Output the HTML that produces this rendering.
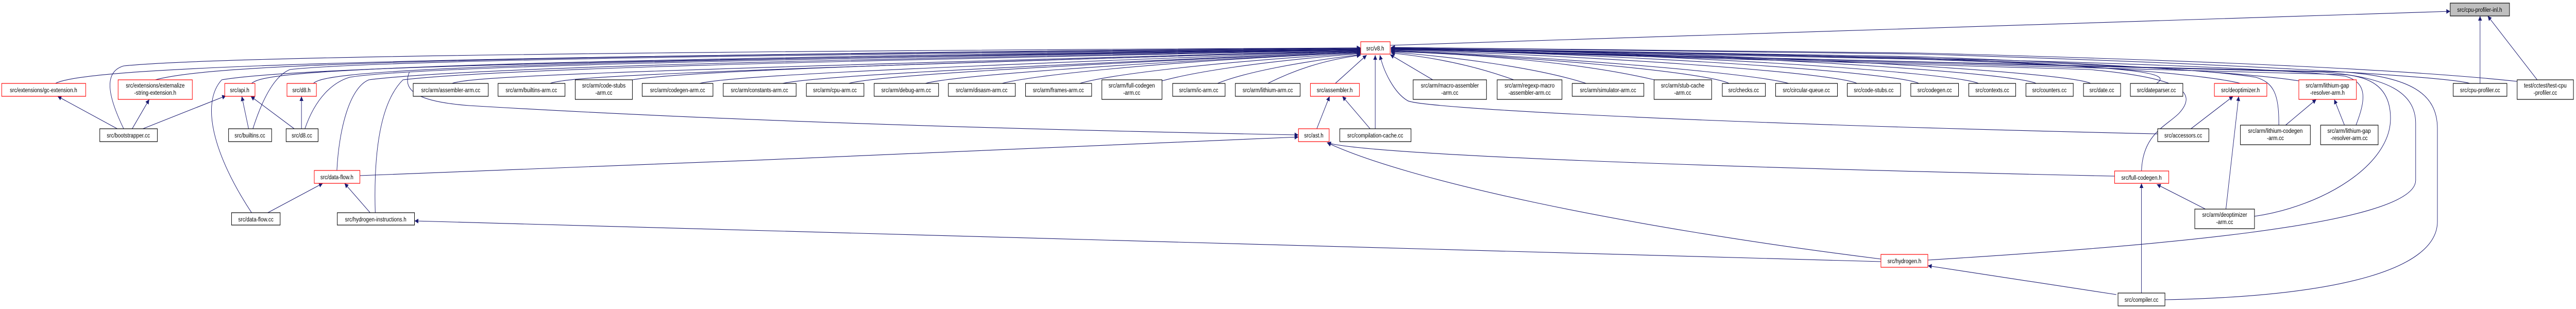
<!DOCTYPE html>
<html><head><meta charset="utf-8"><style>
html,body{margin:0;padding:0;background:#fff;width:100%;height:100%;overflow:hidden;}
svg{display:block;width:100vw;height:100vh}
text{font-family:"Liberation Sans",Arial,sans-serif;font-size:12px;fill:#000;text-anchor:middle}
.e{fill:none;stroke:#191970;stroke-width:1.1}
.n{fill:#fff;stroke:#000;stroke-width:1.2}
.r{fill:#fff;stroke:#ff0000;stroke-width:1.2}
.g{fill:#bfbfbf;stroke:#000;stroke-width:1.2}
</style></head><body>
<svg viewBox="0 0 6041 600" preserveAspectRatio="none" xmlns="http://www.w3.org/2000/svg">
<defs><marker id="a" viewBox="0 0 10 10" refX="10" refY="5" markerUnits="userSpaceOnUse" markerWidth="11" markerHeight="9" orient="auto"><path d="M0,0 L10,5 L0,10 z" fill="#191970"/></marker></defs>
<g marker-end="url(#a)">
<path class="e" d="M130,162 C200,130 900,110 3191,93"/>
<path class="e" d="M364,155 C500,125 1000,110 3191,94"/>
<path class="e" d="M290,250 C255,190 240,140 290,128 C500,110 1500,100 3191,93"/>
<path class="e" d="M590,162 C620,140 800,120 3191,95"/>
<path class="e" d="M593,250 C620,180 650,145 680,135 C900,115 2000,105 3191,95"/>
<path class="e" d="M735,162 C760,140 1000,120 3191,96"/>
<path class="e" d="M715,250 C740,190 780,160 820,150 C1000,125 2200,110 3191,96"/>
<path class="e" d="M590,413 C500,300 470,200 520,155 C700,130 1500,115 3191,97"/>
<path class="e" d="M790,331 C795,250 820,170 865,155 C1100,130 2000,115 3191,97"/>
<path class="e" d="M880,413 C876,300 890,200 945,155 C1200,130 2200,115 3191,97"/>
<path class="e" d="M1060,162 C1100,150 1300,140 3191,98"/>
<path class="e" d="M1290,162 C1330,150 1500,140 3191,98"/>
<path class="e" d="M1483,155 C1550,145 1800,130 3191,99"/>
<path class="e" d="M1640,162 C1700,150 2000,135 3191,99"/>
<path class="e" d="M1835,162 C1900,150 2200,135 3191,100"/>
<path class="e" d="M1990,162 C2050,148 2400,130 3191,100"/>
<path class="e" d="M2170,162 C2230,148 2600,125 3191,101"/>
<path class="e" d="M2350,162 C2410,148 2700,120 3191,102"/>
<path class="e" d="M2532,162 C2600,145 2850,120 3191,103"/>
<path class="e" d="M2725,157 C2800,140 2950,120 3191,104"/>
<path class="e" d="M2855,162 C2920,140 3050,120 3191,106"/>
<path class="e" d="M2973,162 C3050,130 3120,115 3191,107"/>
<path class="e" d="M3130,163 L3205,107"/>
<path class="e" d="M3225,250 L3225,107"/>
<path class="e" d="M960,140 C940,180 990,198 1100,205 C1800,240 2600,255 3045,262"/>
<path class="e" d="M3360,155 L3260,106"/>
<path class="e" d="M3550,155 C3450,125 3350,110 3262,103"/>
<path class="e" d="M3720,162 C3600,130 3400,110 3262,101"/>
<path class="e" d="M3880,155 C3700,120 3450,105 3262,100"/>
<path class="e" d="M4055,162 C4000,140 3600,110 3262,99"/>
<path class="e" d="M4195,162 C4100,140 3600,108 3262,98"/>
<path class="e" d="M4355,162 C4300,140 3700,106 3262,97"/>
<path class="e" d="M4500,162 C4450,140 3800,104 3262,96"/>
<path class="e" d="M4640,162 C4580,140 3900,102 3262,96"/>
<path class="e" d="M4775,162 C4720,140 4000,100 3262,95"/>
<path class="e" d="M4903,162 C4850,140 4100,100 3262,95"/>
<path class="e" d="M5057,162 C5100,140 5000,130 4500,115 L3262,94"/>
<path class="e" d="M5254,162 C5200,150 5000,130 4500,112 L3262,93"/>
<path class="e" d="M5391,157 C5300,145 5000,125 4500,110 L3262,93"/>
<path class="e" d="M5792,162 C5750,150 5300,125 4500,105 L3262,92"/>
<path class="e" d="M5903,158 C5700,140 5300,120 4500,103 L3262,92"/>
<path class="e" d="M5344,243 C5345,180 5330,160 5290,150 C5100,125 4500,110 3262,94"/>
<path class="e" d="M5525,243 C5550,190 5550,160 5500,148 C5300,128 4600,110 3262,94"/>
<path class="e" d="M5022,332 C5025,260 5080,245 5110,220 C5160,175 5100,150 4900,135 L3262,95"/>
<path class="e" d="M5060,260 C4000,240 3320,210 3300,195 C3270,180 3245,140 3236,107"/>
<path class="e" d="M5287,420 C5450,400 5606,320 5606,230 C5606,170 5560,150 5500,145 L3262,95"/>
<path class="e" d="M4521,505 C5000,480 5665,440 5665,350 L5665,240 C5665,180 5600,150 5450,140 L3262,95"/>
<path class="e" d="M5077,582 C5500,575 5716,520 5716,430 L5716,250 C5716,180 5650,150 5500,140 L3262,95"/>
<path class="e" d="M3260,88 L5746,22"/>
<path class="e" d="M5816,162 L5816,31"/>
<path class="e" d="M5950,155 L5834,31"/>
<path class="e" d="M275,250 L135,187"/>
<path class="e" d="M310,250 L350,193"/>
<path class="e" d="M335,250 L530,186"/>
<path class="e" d="M583,250 L567,187"/>
<path class="e" d="M690,250 L588,187"/>
<path class="e" d="M707,250 L707,187"/>
<path class="e" d="M628,413 L757,356"/>
<path class="e" d="M868,413 L808,356"/>
<path class="e" d="M844,341 C1500,320 2600,285 3045,266"/>
<path class="e" d="M3088,250 L3118,187"/>
<path class="e" d="M3213,250 L3148,187"/>
<path class="e" d="M4959,342 C4000,325 3200,300 3112,277"/>
<path class="e" d="M4411,503 C3800,440 3300,350 3112,277"/>
<path class="e" d="M4411,508 C3000,480 1800,450 972,429"/>
<path class="e" d="M4963,572 L4521,516"/>
<path class="e" d="M5022,569 L5022,356"/>
<path class="e" d="M5172,406 L5058,358"/>
<path class="e" d="M5220,406 L5250,187"/>
<path class="e" d="M5138,250 L5237,187"/>
<path class="e" d="M5360,243 L5432,193"/>
<path class="e" d="M5498,243 L5474,193"/>
</g>
<rect class="g" x="5746" y="6" width="139" height="25"/><text x="5815" y="23">src/cpu-profiler-inl.h</text>
<rect class="r" x="3191" y="81" width="69" height="24"/><text x="3225" y="98">src/v8.h</text>

<rect class="r" x="4" y="162" width="197" height="25"/><text x="102" y="179">src/extensions/gc-extension.h</text>
<rect class="r" x="277" y="155" width="174" height="38"/><text x="364" y="170">src/extensions/externalize</text><text x="364" y="184">-string-extension.h</text>
<rect class="r" x="527" y="162" width="71" height="25"/><text x="562" y="179">src/api.h</text>
<rect class="r" x="673" y="162" width="69" height="25"/><text x="707" y="179">src/d8.h</text>
<rect class="n" x="969" y="162" width="176" height="25"/><text x="1057" y="179">src/arm/assembler-arm.cc</text>
<rect class="n" x="1168" y="162" width="157" height="25"/><text x="1246" y="179">src/arm/builtins-arm.cc</text>
<rect class="n" x="1349" y="155" width="134" height="38"/><text x="1416" y="170">src/arm/code-stubs</text><text x="1416" y="184">-arm.cc</text>
<rect class="n" x="1506" y="162" width="166" height="25"/><text x="1589" y="179">src/arm/codegen-arm.cc</text>
<rect class="n" x="1696" y="162" width="171" height="25"/><text x="1781" y="179">src/arm/constants-arm.cc</text>
<rect class="n" x="1891" y="162" width="135" height="25"/><text x="1958" y="179">src/arm/cpu-arm.cc</text>
<rect class="n" x="2050" y="162" width="151" height="25"/><text x="2125" y="179">src/arm/debug-arm.cc</text>
<rect class="n" x="2224" y="162" width="157" height="25"/><text x="2302" y="179">src/arm/disasm-arm.cc</text>
<rect class="n" x="2405" y="162" width="155" height="25"/><text x="2482" y="179">src/arm/frames-arm.cc</text>
<rect class="n" x="2584" y="155" width="141" height="38"/><text x="2654" y="170">src/arm/full-codegen</text><text x="2654" y="184">-arm.cc</text>
<rect class="n" x="2750" y="162" width="123" height="25"/><text x="2811" y="179">src/arm/ic-arm.cc</text>
<rect class="n" x="2897" y="162" width="152" height="25"/><text x="2973" y="179">src/arm/lithium-arm.cc</text>
<rect class="r" x="3073" y="162" width="115" height="25"/><text x="3130" y="179">src/assembler.h</text>
<rect class="n" x="3314" y="155" width="172" height="38"/><text x="3400" y="170">src/arm/macro-assembler</text><text x="3400" y="184">-arm.cc</text>
<rect class="n" x="3511" y="155" width="152" height="38"/><text x="3587" y="170">src/arm/regexp-macro</text><text x="3587" y="184">-assembler-arm.cc</text>
<rect class="n" x="3687" y="162" width="168" height="25"/><text x="3771" y="179">src/arm/simulator-arm.cc</text>
<rect class="n" x="3879" y="155" width="135" height="38"/><text x="3946" y="170">src/arm/stub-cache</text><text x="3946" y="184">-arm.cc</text>
<rect class="n" x="4039" y="162" width="101" height="25"/><text x="4089" y="179">src/checks.cc</text>
<rect class="n" x="4164" y="162" width="145" height="25"/><text x="4236" y="179">src/circular-queue.cc</text>
<rect class="n" x="4332" y="162" width="125" height="25"/><text x="4394" y="179">src/code-stubs.cc</text>
<rect class="n" x="4481" y="162" width="112" height="25"/><text x="4537" y="179">src/codegen.cc</text>
<rect class="n" x="4617" y="162" width="110" height="25"/><text x="4672" y="179">src/contexts.cc</text>
<rect class="n" x="4751" y="162" width="111" height="25"/><text x="4806" y="179">src/counters.cc</text>
<rect class="n" x="4886" y="162" width="87" height="25"/><text x="4929" y="179">src/date.cc</text>
<rect class="n" x="4996" y="162" width="123" height="25"/><text x="5057" y="179">src/dateparser.cc</text>
<rect class="r" x="5193" y="162" width="123" height="25"/><text x="5254" y="179">src/deoptimizer.h</text>
<rect class="r" x="5391" y="155" width="135" height="38"/><text x="5458" y="170">src/arm/lithium-gap</text><text x="5458" y="184">-resolver-arm.h</text>
<rect class="n" x="5753" y="162" width="126" height="25"/><text x="5816" y="179">src/cpu-profiler.cc</text>
<rect class="n" x="5903" y="155" width="132" height="38"/><text x="5969" y="170">test/cctest/test-cpu</text><text x="5969" y="184">-profiler.cc</text>

<rect class="n" x="234" y="250" width="135" height="25"/><text x="301" y="267">src/bootstrapper.cc</text>
<rect class="n" x="536" y="250" width="101" height="25"/><text x="586" y="267">src/builtins.cc</text>
<rect class="n" x="671" y="250" width="75" height="25"/><text x="708" y="267">src/d8.cc</text>
<rect class="r" x="3045" y="250" width="72" height="25"/><text x="3081" y="267">src/ast.h</text>
<rect class="n" x="3142" y="250" width="167" height="25"/><text x="3225" y="267">src/compilation-cache.cc</text>
<rect class="n" x="5060" y="250" width="120" height="25"/><text x="5120" y="267">src/accessors.cc</text>
<rect class="n" x="5254" y="243" width="164" height="38"/><text x="5336" y="258">src/arm/lithium-codegen</text><text x="5336" y="272">-arm.cc</text>
<rect class="n" x="5442" y="243" width="135" height="38"/><text x="5509" y="258">src/arm/lithium-gap</text><text x="5509" y="272">-resolver-arm.cc</text>

<rect class="r" x="737" y="331" width="107" height="25"/><text x="790" y="348">src/data-flow.h</text>
<rect class="r" x="4959" y="332" width="127" height="24"/><text x="5022" y="349">src/full-codegen.h</text>

<rect class="n" x="543" y="413" width="114" height="24"/><text x="600" y="430">src/data-flow.cc</text>
<rect class="n" x="791" y="413" width="181" height="24"/><text x="881" y="430">src/hydrogen-instructions.h</text>
<rect class="n" x="5147" y="406" width="140" height="38"/><text x="5217" y="421">src/arm/deoptimizer</text><text x="5217" y="435">-arm.cc</text>

<rect class="r" x="4411" y="494" width="110" height="25"/><text x="4466" y="511">src/hydrogen.h</text>
<rect class="n" x="4967" y="569" width="110" height="25"/><text x="5022" y="586">src/compiler.cc</text>
</svg>
</body></html>
